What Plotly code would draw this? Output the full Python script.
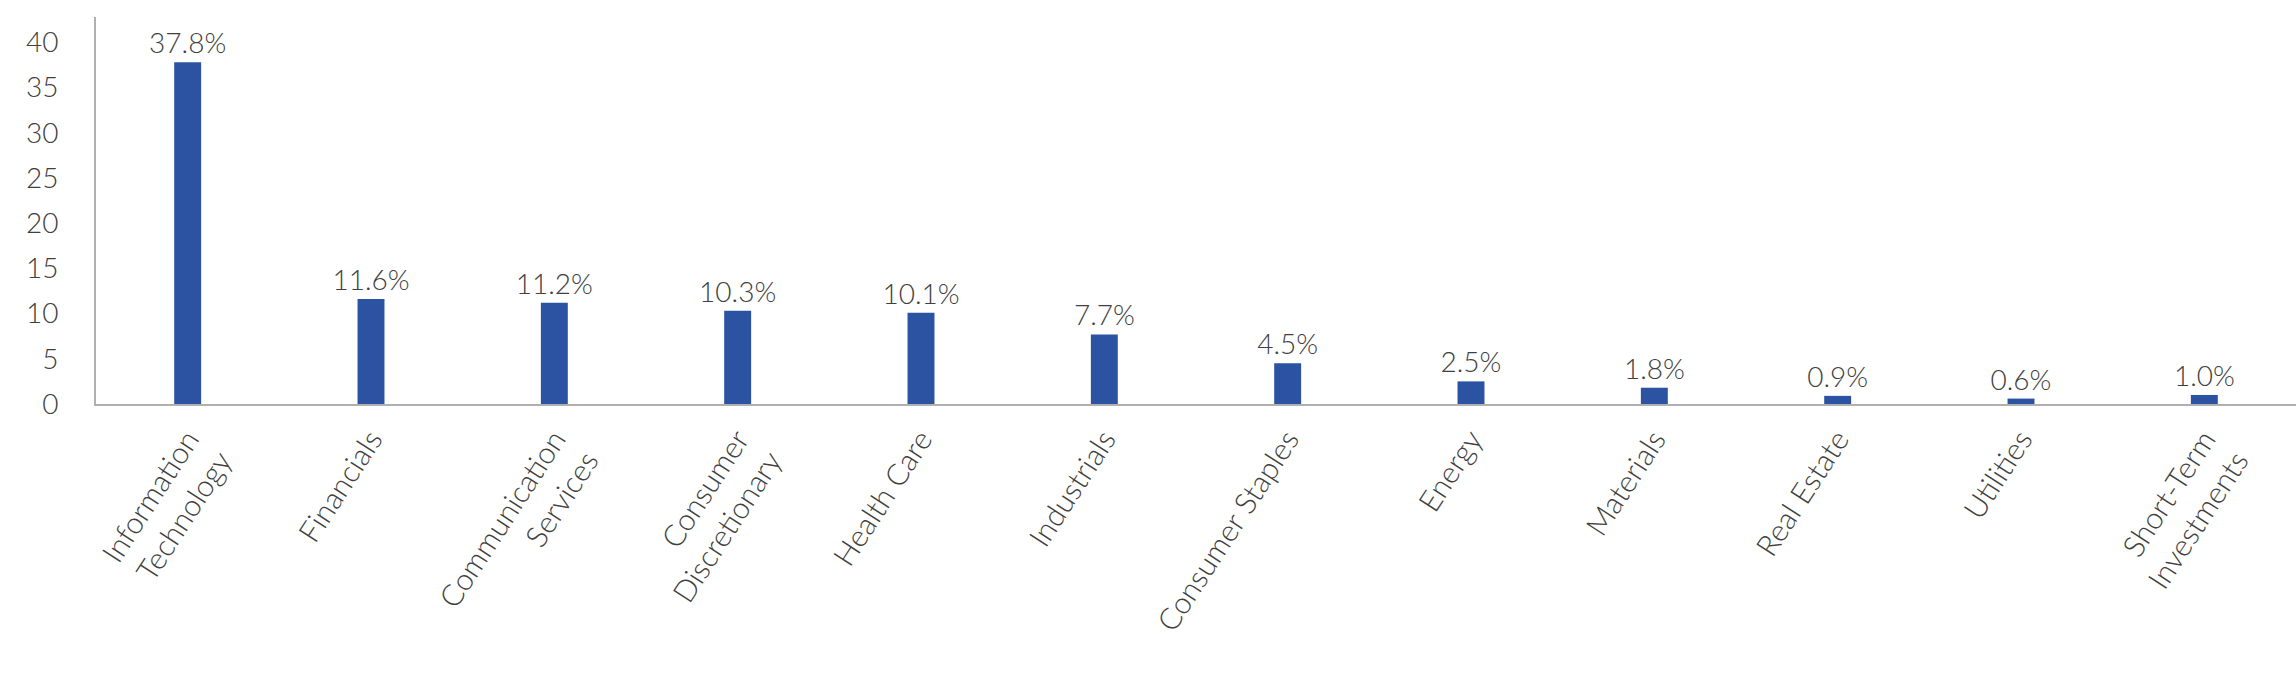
import plotly.graph_objects as go

categories = ["Information<br>Technology", "Financials", "Communication<br>Services",
              "Consumer<br>Discretionary", "Health Care", "Industrials", "Consumer Staples",
              "Energy", "Materials", "Real Estate", "Utilities", "Short-Term<br>Investments"]
values = [37.8, 11.6, 11.2, 10.3, 10.1, 7.7, 4.5, 2.5, 1.8, 0.9, 0.6, 1.0]
y_ticks = [0, 5, 10, 15, 20, 25, 30, 35, 40]

FONT = "Lato"
GREY = "#404040"
W = 300

fig = go.Figure(go.Bar(
    x=categories, y=values,
    marker=dict(color="#2C53A1", line=dict(width=0)),
    text=[f"{v:.1f}%" for v in values],
    textposition="outside",
    constraintext="none",
    cliponaxis=False,
    textfont=dict(family=FONT, size=28, color=GREY, weight=W),
))

fig.update_layout(
    width=2296, height=692,
    margin=dict(l=96, r=0, t=17, b=288),
    paper_bgcolor="white", plot_bgcolor="white",
    bargap=0.853,
    showlegend=False,
    font=dict(family=FONT, color=GREY, weight=W),
)
fig.update_xaxes(
    showline=True, linecolor="#B0B0B0", linewidth=2,
    tickangle=-57, tickfont=dict(family=FONT, size=30, color=GREY, weight=W),
    ticks="", showgrid=False, ticklabelstandoff=4,
)
fig.update_yaxes(
    range=[0, 42.8], tickvals=y_ticks,
    showline=True, linecolor="#B0B0B0", linewidth=2,
    showgrid=False, zeroline=False, ticks="",
    ticklabelstandoff=30,
    tickfont=dict(family=FONT, size=28, color=GREY, weight=W),
)

fig.write_html("out.html")
